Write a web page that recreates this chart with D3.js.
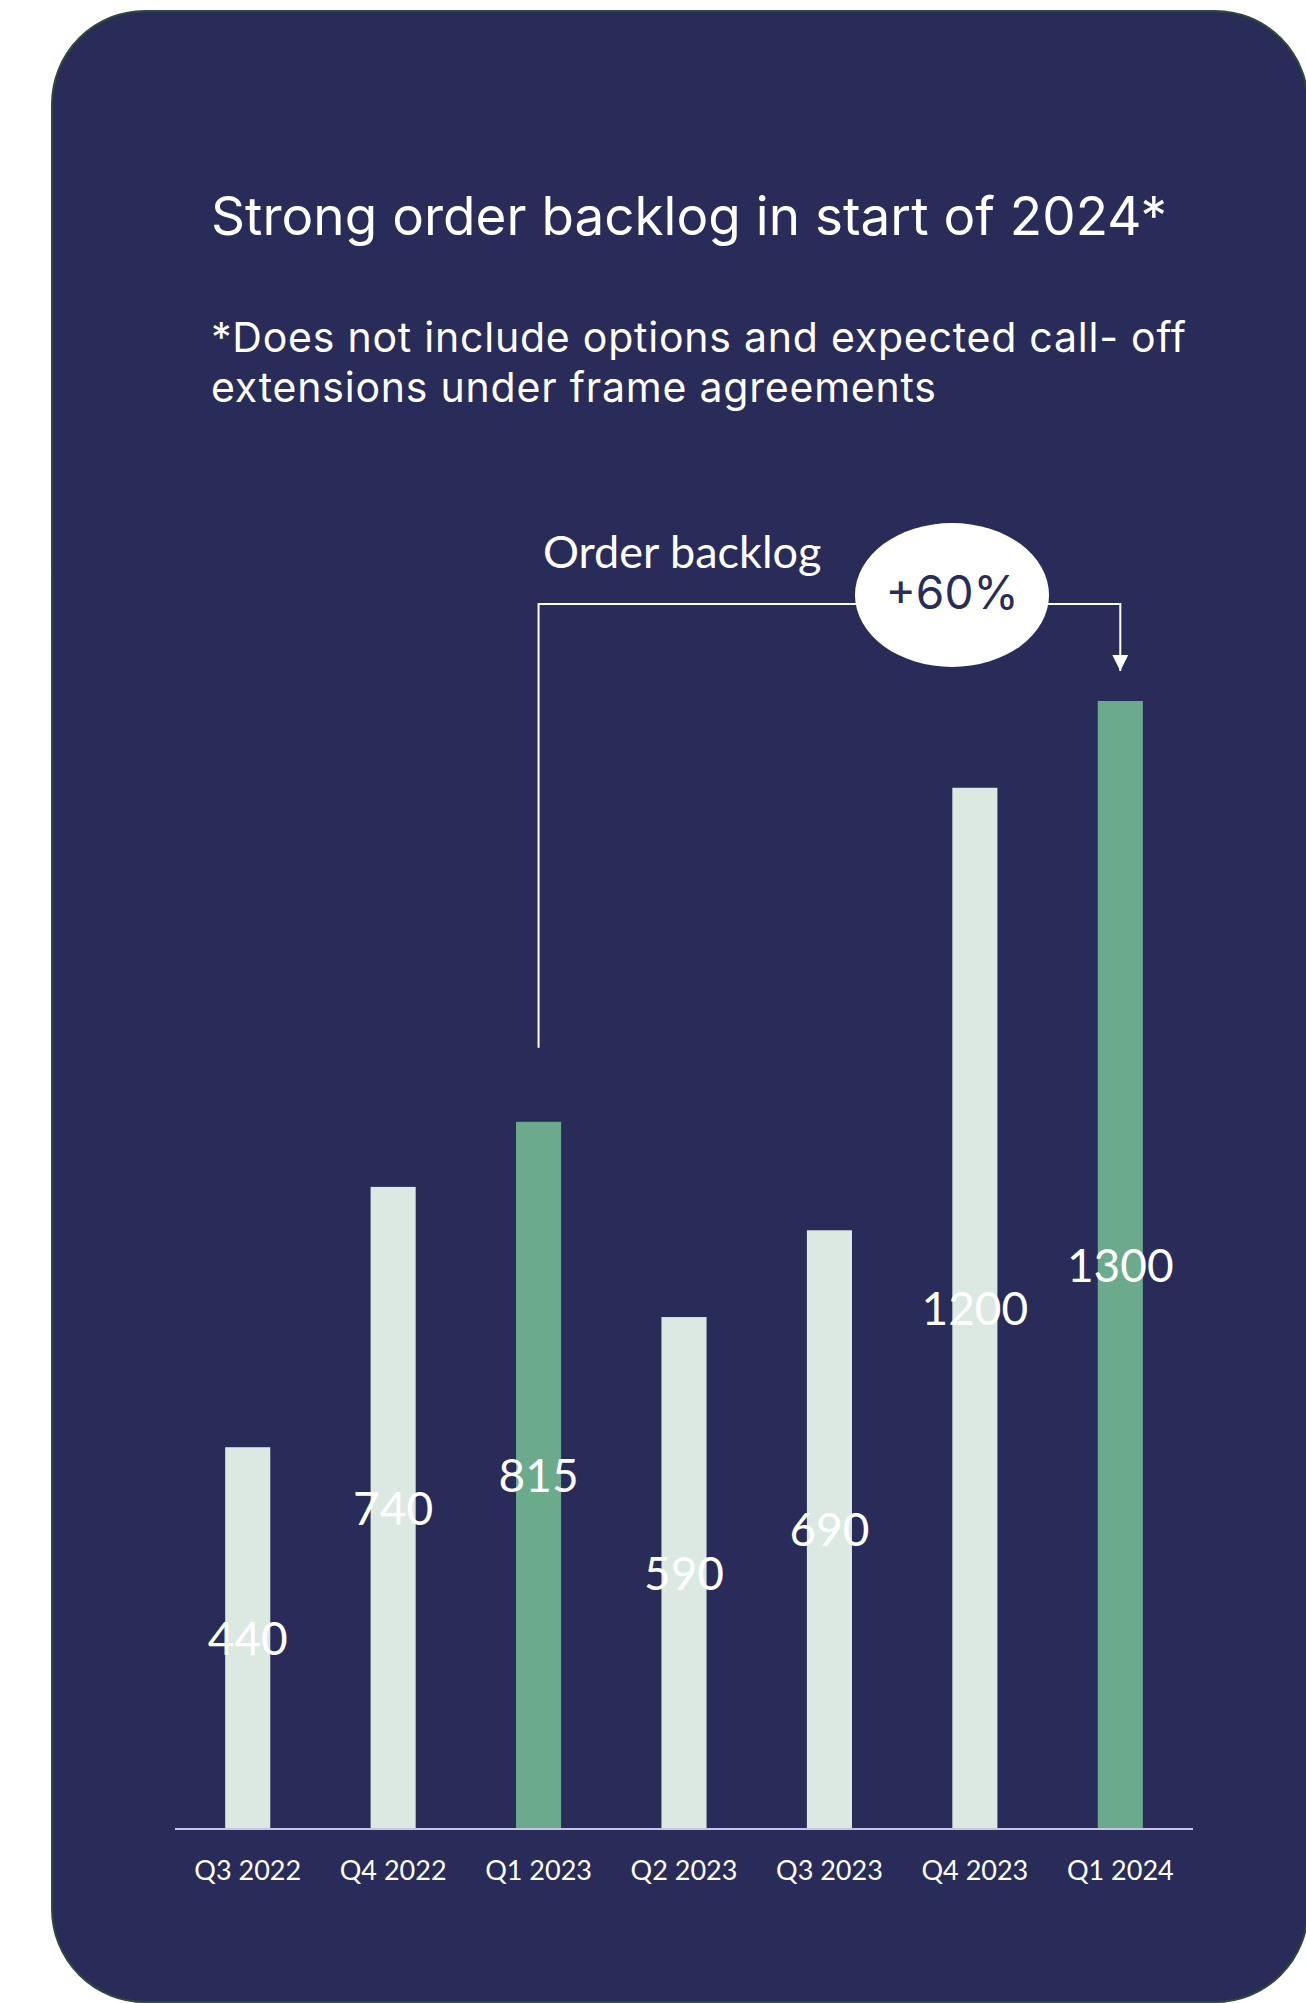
<!DOCTYPE html>
<html>
<head>
<meta charset="utf-8">
<script src="https://cdn.jsdelivr.net/npm/d3@7"></script>
<style>
  html, body { margin: 0; padding: 0; background: #ffffff; }
  svg { display: block; }
</style>
</head>
<body>
<svg id="chart" width="1306" height="2003"></svg>
<script>
// chart data
const quarters = ["Q3 2022", "Q4 2022", "Q1 2023", "Q2 2023", "Q3 2023", "Q4 2023", "Q1 2024"];
const backlog = [440, 740, 815, 590, 690, 1200, 1300];
const highlighted = ["Q1 2023", "Q1 2024"];
const titleText = "Strong order backlog in start of 2024*";
const noteLines = ["*Does not include options and expected call- off", "extensions under frame agreements"];
const noteWidths = [975, 725];
const bracketFrom = "Q1 2023";
const bracketTo = "Q1 2024";
const growthLabel = "+60%";

const svg = d3.select("#chart");

// background panel
svg.append("rect")
  .attr("x", 52).attr("y", 11)
  .attr("width", 1256).attr("height", 1991)
  .attr("rx", 93).attr("ry", 93)
  .attr("fill", "#292c59")
  .attr("stroke", "#2e4a3a")
  .attr("stroke-width", 2);

// title + note
svg.append("text")
  .attr("x", 211).attr("y", 235)
  .attr("fill", "#ffffff")
  .attr("textLength", 956)
  .attr("lengthAdjust", "spacing")
  .style("font-family", "Inter, sans-serif")
  .style("font-size", "53px")
  .text(titleText);

svg.append("g").selectAll("text")
  .data(noteLines)
  .enter()
  .append("text")
  .attr("x", 211)
  .attr("y", (d, i) => 352 + i * 50)
  .attr("fill", "#ffffff")
  .attr("textLength", (d, i) => noteWidths[i])
  .attr("lengthAdjust", "spacing")
  .style("font-family", "Inter, sans-serif")
  .style("font-size", "41px")
  .text(d => d);

// scales
const x = d3.scaleBand()
  .domain(quarters)
  .range([175, 1193])
  .paddingInner(0.69)
  .paddingOuter(0.345);

const y = d3.scaleLinear()
  .domain([0, 1300])
  .range([1829, 701]);

// bars
svg.append("g").selectAll("rect")
  .data(quarters)
  .enter()
  .append("rect")
  .attr("x", d => x(d))
  .attr("y", (d, i) => y(backlog[i]))
  .attr("width", x.bandwidth())
  .attr("height", (d, i) => y(0) - y(backlog[i]))
  .attr("fill", d => highlighted.includes(d) ? "#6caa8c" : "#dbe9e2");

// x axis
const xAxis = svg.append("g")
  .attr("transform", `translate(0,${y(0)})`)
  .call(d3.axisBottom(x).tickSize(0).tickPadding(32));

xAxis.select(".domain")
  .attr("d", "M175,0H1193")
  .attr("stroke", "#c5c6e6")
  .attr("stroke-width", 2);

xAxis.selectAll("text")
  .attr("fill", "#ffffff")
  .style("font-family", "Lato, sans-serif")
  .style("font-size", "27px");

// value labels, centred in each bar
svg.append("g").selectAll("text")
  .data(quarters)
  .enter()
  .append("text")
  .attr("x", d => x(d) + x.bandwidth() / 2)
  .attr("y", (d, i) => (y(backlog[i]) + y(0)) / 2)
  .attr("dy", "0.36em")
  .attr("text-anchor", "middle")
  .attr("fill", "#ffffff")
  .style("font-family", "Lato, sans-serif")
  .style("font-size", "46px")
  .text((d, i) => backlog[i]);

// bracket annotation
const x1 = x(bracketFrom) + x.bandwidth() / 2;
const x2 = x(bracketTo) + x.bandwidth() / 2;
const bracketY = 604;

svg.append("defs").append("marker")
  .attr("id", "arrow")
  .attr("viewBox", "0 0 10 10")
  .attr("refX", 10).attr("refY", 5)
  .attr("markerUnits", "userSpaceOnUse")
  .attr("markerWidth", 16).attr("markerHeight", 16)
  .attr("orient", "auto")
  .append("path")
  .attr("d", "M0,0L10,5L0,10Z")
  .attr("fill", "#ffffff");

svg.append("path")
  .attr("d", `M${x1},${y(backlog[quarters.indexOf(bracketFrom)]) - 74}V${bracketY}H${x2}V${y(backlog[quarters.indexOf(bracketTo)]) - 30}`)
  .attr("fill", "none")
  .attr("stroke", "#ffffff")
  .attr("stroke-width", 2)
  .attr("marker-end", "url(#arrow)");

svg.append("text")
  .attr("x", 543).attr("y", 568)
  .attr("fill", "#ffffff")
  .style("font-family", "Lato, sans-serif")
  .style("font-size", "45px")
  .text("Order backlog");

svg.append("ellipse")
  .attr("cx", 952).attr("cy", 595)
  .attr("rx", 97).attr("ry", 72)
  .attr("fill", "#ffffff");

svg.append("text")
  .attr("x", 952).attr("y", 609)
  .attr("text-anchor", "middle")
  .attr("fill", "#292c59")
  .style("font-family", "Inter, sans-serif")
  .style("font-size", "46px")
  .text(growthLabel);
</script>
</body>
</html>
